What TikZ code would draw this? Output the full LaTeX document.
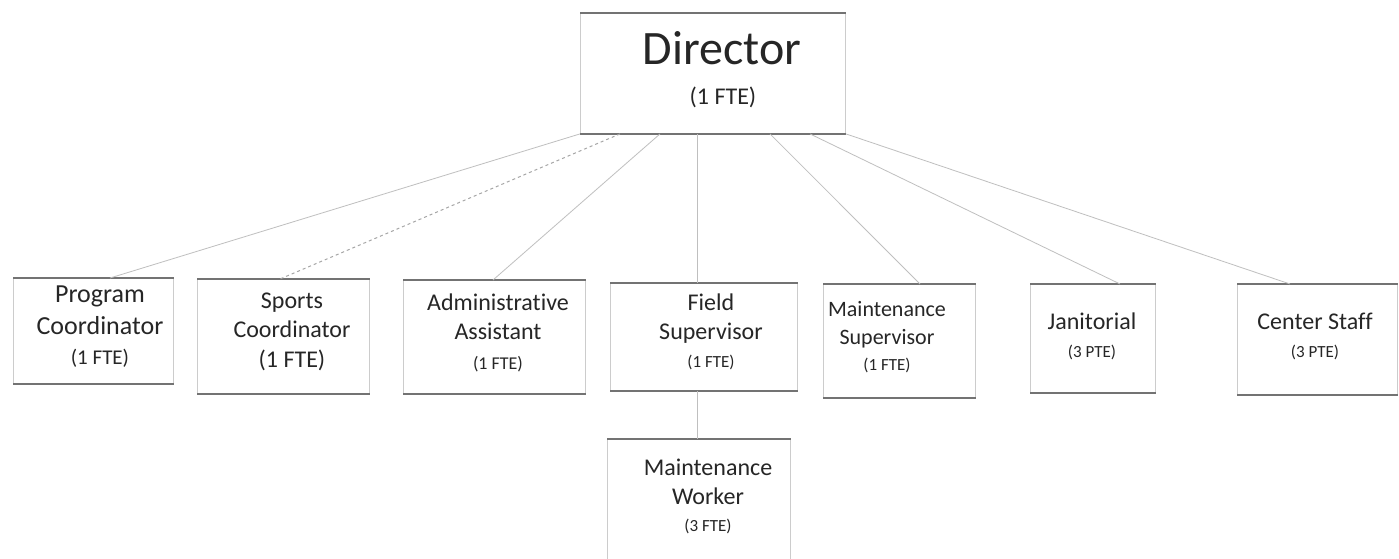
\documentclass[tikz,border=0pt]{standalone}
\usepackage{fontspec}
\setmainfont{Carlito}[Ligatures=NoCommon]
\begin{document}
\begin{tikzpicture}[x=1pt,y=-1pt,
  box/.style={draw=black!20, line width=0.9pt, inner sep=0pt, anchor=north west},
  edge/.style={draw=black!55, line width=1.2pt},
  conn/.style={draw=black!25, line width=0.8pt},
  dconn/.style={draw=black!35, line width=1pt, dash pattern=on 3pt off 3pt},
  txt/.style={align=center, text=black!85, inner sep=0pt},
  f22/.style={font=\fontsize{22}{28}\selectfont},
  f24/.style={font=\fontsize{24}{29}\selectfont},
  f26/.style={font=\fontsize{26}{32}\selectfont}]
\useasboundingbox (0,0) rectangle (1399,559);
\fill[white] (0,0) rectangle (1399,559);

% boxes
\node[box, minimum width=265pt, minimum height=120pt] (dir) at (580,13) {};
\node[box, minimum width=160pt, minimum height=105pt] (pc) at (13,278) {};
\node[box, minimum width=172pt, minimum height=114pt] (sc) at (197,279) {};
\node[box, minimum width=182pt, minimum height=113pt] (aa) at (403,280) {};
\node[box, minimum width=187pt, minimum height=107pt] (fs) at (610,283) {};
\node[box, minimum width=152pt, minimum height=113pt] (ms) at (823,284) {};
\node[box, minimum width=125pt, minimum height=108pt] (jn) at (1030,284) {};
\node[box, minimum width=160pt, minimum height=110pt] (cs) at (1237,284) {};
\node[box, minimum width=183pt, minimum height=140pt] (mw) at (607,439) {};

% darker top/bottom edges
\foreach \n in {dir,pc,sc,aa,fs,ms,jn,cs}{
  \draw[edge] (\n.north west) -- (\n.north east);
  \draw[edge] (\n.south west) -- (\n.south east);
}
\draw[edge] (mw.north west) -- (mw.north east);

% connectors
\draw[conn] (dir.south west) -- ([xshift=97pt]pc.north west);
\draw[dconn] ([xshift=40pt]dir.south west) -- ([xshift=83pt]sc.north west);
\draw[conn] ([xshift=80pt]dir.south west) -- ([xshift=90pt]aa.north west);
\draw[conn] ([xshift=117pt]dir.south west) -- ([xshift=87pt]fs.north west);
\draw[conn] ([xshift=190pt]dir.south west) -- ([xshift=97pt]ms.north west);
\draw[conn] ([xshift=230pt]dir.south west) -- ([xshift=90pt]jn.north west);
\draw[conn] (dir.south east) -- ([xshift=53pt]cs.north west);
\draw[conn] ([xshift=87pt]fs.south west) -- ([xshift=90pt]mw.north west);

% texts
\node[txt, anchor=base, font=\fontsize{48}{56}\selectfont] (dirt) at (722,65) {Director};
\node[txt, anchor=base, f24] (dirf) at (723,105) {(1 FTE)};

\node[txt, f26] (pct) at (100,327) {Program\\Coordinator\\[-2pt]{\fontsize{21}{24}\selectfont (1 FTE)}};
\node[txt, f24] (sct) at (292,332) {Sports\\Coordinator\\[1pt](1 FTE)};
\node[txt, f24] (aat) at (498,333) {Administrative\\Assistant\\[1pt]{\fontsize{18}{22}\selectfont (1 FTE)}};
\node[txt, f24] (fst) at (711,332) {Field\\Supervisor\\[-1pt]{\fontsize{17}{22}\selectfont (1 FTE)}};
\node[txt, f22] (mst) at (887,337) {Maintenance\\Supervisor\\[-2pt]{\fontsize{17}{22}\selectfont (1 FTE)}};
\node[txt, f24] (jnt) at (1092,336) {Janitorial\\[-1pt]{\fontsize{17}{22}\selectfont (3 PTE)}};
\node[txt, f24] (cst) at (1315,336) {Center Staff\\[-1pt]{\fontsize{17}{22}\selectfont (3 PTE)}};
\node[txt, f24] (mwt) at (708,496) {Maintenance\\Worker\\[-2pt]{\fontsize{17}{22}\selectfont (3 FTE)}};
\end{tikzpicture}
\end{document}
